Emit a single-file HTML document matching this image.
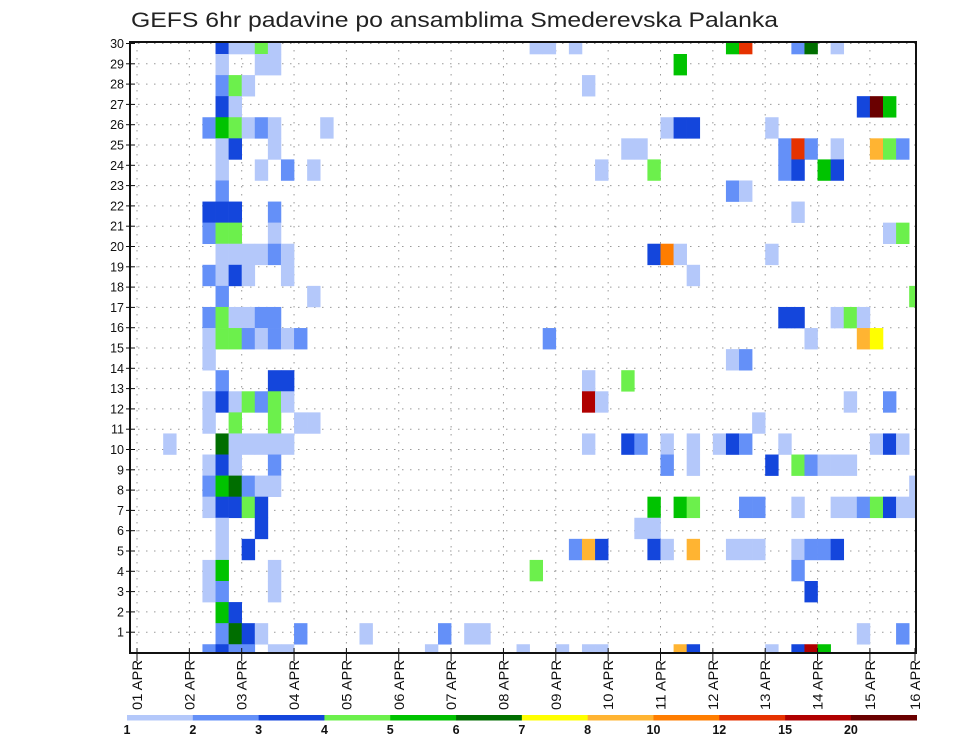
<!DOCTYPE html>
<html><head><meta charset="utf-8"><style>
html,body{margin:0;padding:0;background:#fff;}
svg{display:block;font-family:"Liberation Sans",sans-serif;}
</style></head><body>
<svg id="chart" width="960" height="742" viewBox="0 0 960 742" xmlns="http://www.w3.org/2000/svg">
<defs><clipPath id="plotclip"><rect x="130" y="42" width="786" height="611"/></clipPath></defs>
<text x="131" y="27" font-size="21" fill="#222" textLength="647" lengthAdjust="spacingAndGlyphs">GEFS 6hr padavine po ansamblima Smederevska Palanka</text>
<g id="grid"></g>
<g id="cells" clip-path="url(#plotclip)"></g>
<rect x="130" y="42" width="786" height="611" fill="none" stroke="#111" stroke-width="2"/>
<g id="yaxis"></g>
<g id="xaxis"></g>
<g id="legend"></g>
</svg>
<script>
// data: member index, 6-hour step index (from 01 APR 00Z), precipitation level class
const members = [30,30,30,30,30,30,30,30,30,30,30,30,30, 29,29,29,29, 28,28,28,28, 27,27,27,27,27, 26,26,26,26,26,26,26,26,26,26,26, 25,25,25,25,25,25,25,25,25,25,25,25, 24,24,24,24,24,24,24,24,24,24, 23,23,23, 22,22,22,22,22, 21,21,21,21,21,21, 20,20,20,20,20,20,20,20,20,20, 19,19,19,19,19,19, 18,18,18, 17,17,17,17,17,17,17,17,17,17,17, 16,16,16,16,16,16,16,16,16,16,16,16, 15,15,15, 14,14,14,14,14, 13,13,13,13,13,13,13,13,13,13,13, 12,12,12,12,12,12, 11,11,11,11,11,11,11,11,11,11,11,11,11,11,11,11,11,11,11, 10,10,10,10,10,10,10,10,10,10,10,10, 9,9,9,9,9,9,9, 8,8,8,8,8,8,8,8,8,8,8,8,8,8,8,8,8,8, 7,7,7,7, 6,6,6,6,6,6,6,6,6,6,6,6,6,6,6, 5,5,5,5,5, 4,4,4,4, 3,3, 2,2,2,2,2,2,2,2,2,2,2, 1,1,1,1,1,1,1,1,1,1,1,1,1,1,1,1,1];
const steps = [6,7,8,9,10,30,31,33,45,46,50,51,53, 6,9,10,41, 6,7,8,34, 6,7,55,56,57, 5,6,7,8,9,10,14,40,41,42,48, 6,7,10,37,38,49,50,51,53,56,57,58, 6,9,11,13,35,39,49,50,52,53, 6,45,46, 5,6,7,10,50, 5,6,7,10,57,58, 6,7,8,9,10,11,39,40,41,48, 5,6,7,8,11,42, 6,13,59, 5,6,7,8,9,10,49,50,53,54,55, 5,6,7,8,9,10,11,12,31,51,55,56, 5,45,46, 6,10,11,34,37, 5,6,7,8,9,10,11,34,35,54,57, 5,7,10,12,13,47, 2,6,7,8,9,10,11,34,37,38,40,42,44,45,46,49,56,57,58, 5,6,7,10,40,42,48,50,51,52,53,54, 5,6,7,8,9,10,59, 5,6,7,8,9,39,41,42,46,47,50,53,54,55,56,57,58,59, 6,9,38,39, 6,8,33,34,35,39,40,42,45,46,47,50,51,52,53, 5,6,10,30,50, 5,6,10,51, 6,7, 6,7,8,9,12,17,23,25,26,55,58, 5,6,7,8,10,11,22,29,32,34,35,41,42,48,50,51,52];
const levels = [3,1,1,4,1,1,1,1,5,10,2,6,1, 1,1,1,5, 2,4,1,1, 3,1,3,12,5, 2,5,4,1,2,1,1,1,3,3,1, 1,3,1,1,1,2,10,2,1,8,4,2, 1,1,2,1,1,4,2,3,5,3, 2,2,1, 3,3,3,2,1, 2,4,4,1,1,4, 1,1,1,1,2,1,3,9,1,1, 2,1,3,1,1,1, 2,1,4, 2,4,1,1,2,2,3,3,1,4,1, 1,4,4,2,1,2,1,2,2,1,8,7, 1,1,2, 2,3,3,1,4, 1,3,1,4,2,4,1,11,1,1,2, 1,4,4,1,1,1, 1,6,1,1,1,1,1,1,3,2,1,1,1,3,2,1,1,3,1, 1,3,1,2,2,1,3,4,2,1,1,1, 2,5,6,2,1,1,1, 1,3,3,4,3,5,5,4,2,2,1,1,1,2,4,3,1,1, 1,3,1,1, 1,3,2,8,3,3,1,8,1,1,1,1,2,2,3, 1,5,1,4,2, 1,2,1,3, 5,3, 2,6,3,1,2,1,2,1,1,1,2, 2,3,2,2,1,1,1,1,1,1,1,8,3,1,3,11,5];
const dayLabels = ["01 APR","02 APR","03 APR","04 APR","05 APR","06 APR","07 APR","08 APR","09 APR","10 APR","11 APR","12 APR","13 APR","14 APR","15 APR","16 APR"];
const legendLabels = ["1","2","3","4","5","6","7","8","10","12","15","20"];
const palette = ["#b4c8fa","#6490f8","#1446dc","#6cf04c","#00c300","#006e00","#ffff00","#ffb432","#ff7d00","#e63200","#b00000","#6a0000"];

const NS = "http://www.w3.org/2000/svg";
const X0 = 137, DAY = 52.35, STEP = DAY/4;
function xStep(k){ return X0 + k*STEP; }
function xDay(d){ return X0 + d*DAY; }
function yBandTop(n){ return 54 + (29-n)*21.08; }
const BAND = 21.08;
function yRow(r){ return 652.5 - r*20.3; }
function mk(tag, attrs, parent){ const e=document.createElementNS(NS,tag); for(const k in attrs) e.setAttribute(k, attrs[k]); parent.appendChild(e); return e; }

const grid = document.getElementById('grid');
for(let r=1;r<=30;r++){
  const l = mk('line',{x1:130,x2:916,y1:yRow(r),y2:yRow(r),stroke:'#999','stroke-width':1,'stroke-dasharray':'1.5,6.5'},grid);
  
  
}
for(let d=0; d<15; d++){
  const l = mk('line',{x1:xDay(d),x2:xDay(d),y1:42,y2:653,stroke:'#999','stroke-width':1,'stroke-dasharray':'1.5,6.5'},grid);
  
  
}

const cells = document.getElementById('cells');
for(let i=0;i<members.length;i++){
  const c = mk('rect',{x:xStep(steps[i]),y:yBandTop(members[i]),width:STEP+0.3,height:BAND+0.3,fill:palette[levels[i]-1]},cells);
  
  
}

const yaxis = document.getElementById('yaxis');
for(let r=1;r<=30;r++){
  const t = mk('text',{x:124,y:yRow(r)+4.5,'font-size':12.5,'text-anchor':'end',fill:'#111'},yaxis);
  t.textContent = String(r);
  
  
  const tk = mk('line',{x1:126,x2:135,y1:yRow(r),y2:yRow(r),stroke:'#111','stroke-width':1},yaxis);
  
  
}

const xaxis = document.getElementById('xaxis');
for(let d=0; d<dayLabels.length; d++){
  const x = d<15 ? xDay(d) : 915;
  const tk = mk('line',{x1:x,x2:x,y1:648,y2:661,stroke:'#111','stroke-width':1},xaxis);
  
  
  const t = mk('text',{x:0,y:0,'font-size':13.5,fill:'#111',transform:'translate('+(x+5)+',710) rotate(-90)',textLength:50,lengthAdjust:'spacingAndGlyphs'},xaxis);
  t.textContent = dayLabels[d];
  
  
}

const legend = document.getElementById('legend');
const LX0 = 127, LW = (916.7-127)/12;
for(let i=0;i<palette.length;i++){
  const s = mk('rect',{x:LX0+i*LW,y:715,width:LW+0.3,height:5.5,fill:palette[i]},legend);
  
  
}
for(let i=0;i<legendLabels.length;i++){
  const t = mk('text',{x:LX0+i*LW,y:734,'font-size':12.5,'font-weight':'bold','text-anchor':'middle',fill:'#111'},legend);
  t.textContent = legendLabels[i];
  
  
}
</script>
</body></html>
